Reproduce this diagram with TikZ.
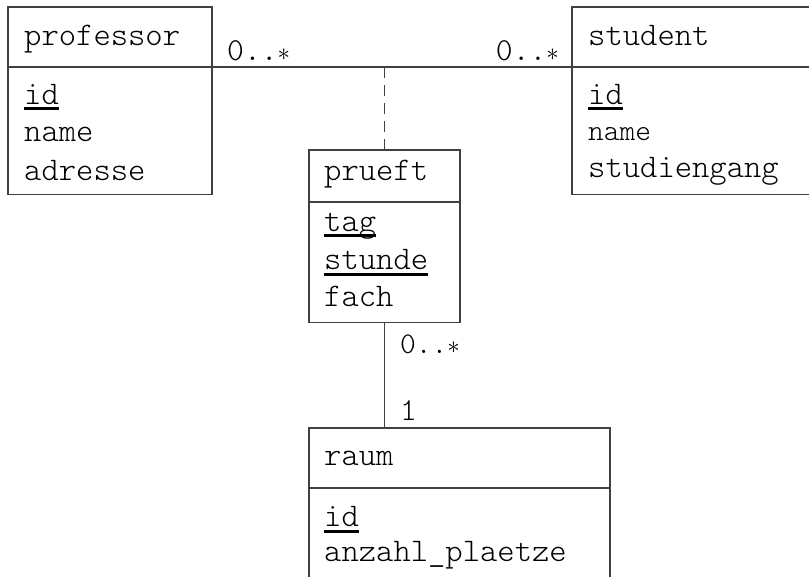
\documentclass[tikz,border=0pt]{standalone}
\usetikzlibrary{positioning}
\definecolor{umlline}{HTML}{404040}

\tikzset{
  box/.style={draw=umlline, line width=1.3pt, rectangle, inner sep=0pt, outer sep=0pt},
  attr/.style={anchor=base west, inner sep=0pt, font=\ttfamily\fontseries{l}\fontsize{33}{36}\selectfont},
  mult/.style={inner sep=0pt, font=\ttfamily\fontseries{l}\fontsize{32}{36}\selectfont},
  assoc/.style={draw=umlline, line width=1.3pt},
  keyline/.style={draw=black, line width=3pt}
}
\newcommand{\many}{0..$\ast$}

\begin{document}
\begin{tikzpicture}[x=1pt,y=-1pt]
\useasboundingbox (0,0) rectangle (809,576);
\clip (0,0) rectangle (809,576);

% classes
\node[box, minimum width=204pt, minimum height=60pt, anchor=north west] (profhead) at (8,7) {};
\node[box, minimum width=204pt, minimum height=127.5pt, below=0pt of profhead] (profbody) {};
\node[box, minimum width=260pt, minimum height=60pt, anchor=north west] (stuhead) at (572,7) {};
\node[box, minimum width=260pt, minimum height=127.5pt, below=0pt of stuhead] (stubody) {};
\node[box, minimum width=151pt, minimum height=52pt, anchor=north west] (pruhead) at (309,150) {};
\node[box, minimum width=151pt, minimum height=120.5pt, below=0pt of pruhead] (prubody) {};
\node[box, minimum width=301pt, minimum height=60pt, anchor=north west] (raumhead) at (309,428) {};
\node[box, minimum width=301pt, minimum height=120pt, below=0pt of raumhead] (raumbody) {};

% texts
\node[attr] (profname) at (24,45) {professor};
\node[attr] (profid) at (24,104) {id};
\node[attr] (profn) at (24,141.5) {name};
\node[attr] (profadr) at (24,180) {adresse};

\node[attr] (stuname) at (588,45) {student};
\node[attr] (stuid) at (588,104) {id};
\node[attr, font=\ttfamily\fontseries{l}\fontsize{30}{36}\selectfont] (stun) at (588,140) {name};
\node[attr] (stusg) at (588,177) {studiengang};

\node[attr] (pruname) at (324,180) {prueft};
\node[attr] (prutag) at (324,231) {tag};
\node[attr] (prustunde) at (324,269.5) {stunde};
\node[attr] (prufach) at (324,306.5) {fach};

\node[attr] (raumname) at (324,465) {raum};
\node[attr] (raumid) at (324,526.5) {id};
\node[attr] (raumpl) at (324,561) {anzahl\_plaetze};

\foreach \k in {profid,stuid,prutag,prustunde,raumid}
  \draw[keyline] ([yshift=-4.5pt]\k.base west) -- ([yshift=-4.5pt]\k.base east);

% associations
\draw[assoc] (profhead.south east) -- (stuhead.south west);
\coordinate (assocmid) at (pruhead.north |- profhead.south);
\draw[assoc, dash pattern=on 11pt off 7pt] (assocmid) -- (pruhead.north);
\draw[assoc] (prubody.south) -- (prubody.south |- raumhead.north);

% multiplicities
\node[mult, anchor=base west] (mprof) at (227,60) {\many};
\node[mult, anchor=base east] (mstu) at (559,60) {\many};
\node[mult, anchor=base west, font=\ttfamily\fontseries{l}\fontsize{30}{36}\selectfont] (mpru) at (400,353) {\many};
\node[mult, anchor=base west] (mraum) at (400,420) {1};
\end{tikzpicture}
\end{document}
